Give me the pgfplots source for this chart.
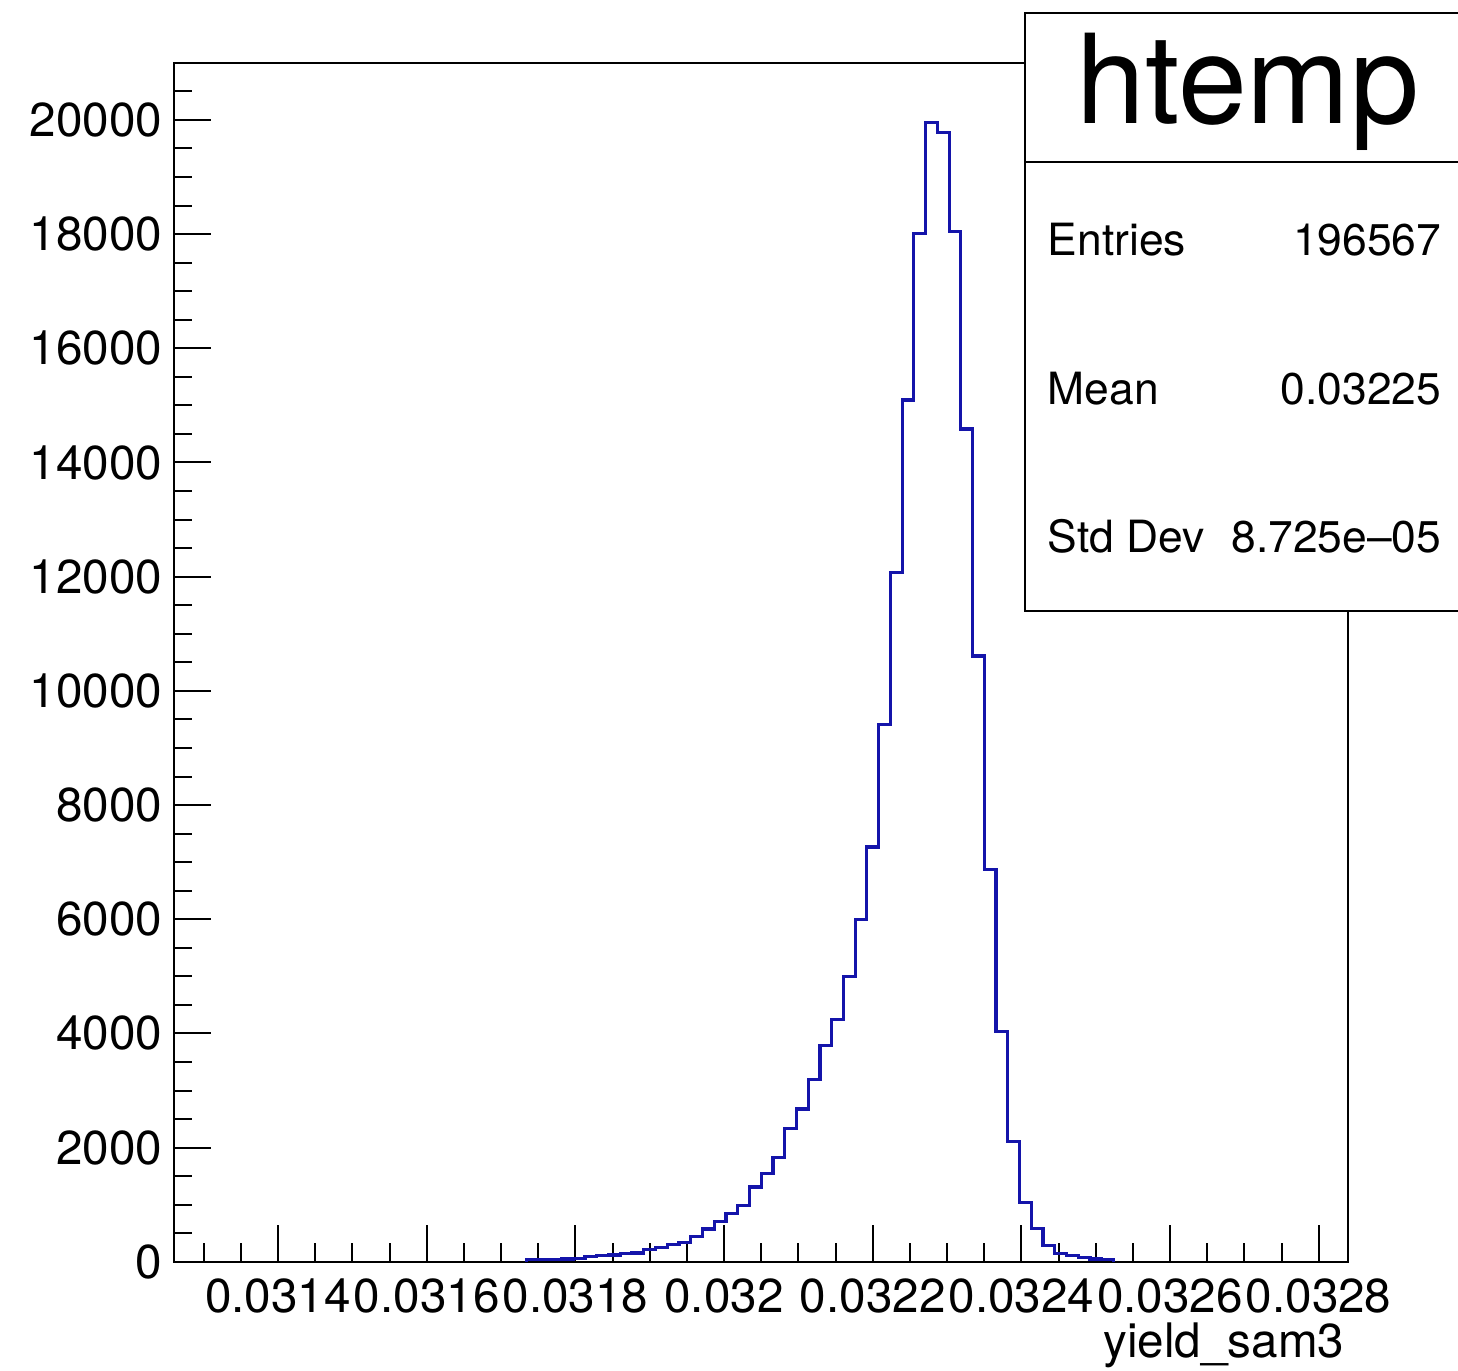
\documentclass[border=0pt]{standalone}
\usepackage{fontspec}
\setmainfont{TeX Gyre Heros}
\usepackage{pgfplots}
\usepackage{pgfplotstable}
\pgfplotsset{compat=1.18}
\definecolor{histblue}{RGB}{20,20,170}

% bin left edges (width 1.58e-5) and counts, outline of htemp
\pgfplotstableread{
x y
0.0317340 0
0.0317340 40
0.0317498 45
0.0317656 45
0.0317814 50
0.0317972 55
0.0318130 100
0.0318288 110
0.0318446 120
0.0318604 145
0.0318762 155
0.0318920 210
0.0319078 250
0.0319236 300
0.0319394 345
0.0319552 440
0.0319710 575
0.0319868 705
0.0320026 850
0.0320184 985
0.0320342 1310
0.0320500 1550
0.0320658 1830
0.0320816 2340
0.0320974 2675
0.0321132 3187
0.0321290 3790
0.0321448 4250
0.0321606 5000
0.0321764 5990
0.0321922 7265
0.0322080 9405
0.0322238 12070
0.0322396 15095
0.0322554 18005
0.0322712 19955
0.0322870 19780
0.0323028 18040
0.0323186 14585
0.0323344 10610
0.0323502 6865
0.0323660 4030
0.0323818 2105
0.0323976 1045
0.0324134 578
0.0324292 280
0.0324450 152
0.0324608 105
0.0324766 70
0.0324924 50
0.0325082 40
0.0325240 0
}\histdata

\begin{document}
\begin{tikzpicture}
\path[use as bounding box] (0,0) rectangle (364.5pt,-342.75pt);
\begin{axis}[
  at={(43.5pt,-315.45pt)}, anchor=south west,
  scale only axis, width=293.6pt, height=299.6pt,
  xmin=0.03126, xmax=0.03284, ymin=0, ymax=20990,
  axis line style={line width=0.5pt},
  tick align=inside, xtick pos=bottom, ytick pos=left,
  major tick length=9.3pt, minor tick length=4.6pt,
  every tick/.style={black, line width=0.5pt},
  scaled x ticks=false, scaled y ticks=false,
  xtick={0.0314,0.0316,0.0318,0.032,0.0322,0.0324,0.0326,0.0328},
  xticklabels={0.0314,0.0316,0.0318,0.032,0.0322,0.0324,0.0326,0.0328},
  minor xtick={0.0313,0.03135,0.03145,0.0315,0.03155,0.03165,0.0317,0.03175,0.03185,0.0319,0.03195,0.03205,0.0321,0.03215,0.03225,0.0323,0.03235,0.03245,0.0325,0.03255,0.03265,0.0327,0.03275},
  ytick={0,2000,4000,6000,8000,10000,12000,14000,16000,18000,20000},
  yticklabels={0,2000,4000,6000,8000,10000,12000,14000,16000,18000,20000},
  minor ytick={500,1000,1500,2500,3000,3500,4500,5000,5500,6500,7000,7500,8500,9000,9500,10500,11000,11500,12500,13000,13500,14500,15000,15500,16500,17000,17500,18500,19000,19500,20500},
  ticklabel style={font=\fontsize{11.9}{14}\selectfont},
  xticklabel style={inner sep=0pt, yshift=-4pt},
  yticklabel style={inner sep=0pt, xshift=-2.75pt},
]
\addplot[const plot mark left, histblue, line width=0.8pt] table {\histdata};
\end{axis}

% stats box
\begin{scope}[x=0.25pt,y=-0.25pt]
\fill[white] (1025,13) rectangle (1458,611);
\draw[line width=0.5pt] (1458,13) -- (1025,13) -- (1025,611) -- (1458,611);
\draw[line width=0.5pt] (1025,162) -- (1458,162);
\node[anchor=base, inner sep=0pt, font=\fontsize{31}{36}\selectfont] at (1248,123) {htemp};
\begin{scope}[every node/.style={inner sep=0pt, font=\fontsize{11.1}{13}\selectfont}]
\node[anchor=base west] at (1047,255) {Entries};
\node[anchor=base east] at (1442,255) {196567};
\node[anchor=base west] at (1047,404) {Mean};
\node[anchor=base east] at (1442,404) {0.03225};
\node[anchor=base west] at (1047,552) {Std Dev};
\node[anchor=base east] at (1442,552) {8.725e--05};
\end{scope}
\node[anchor=base east, inner sep=0pt, font=\fontsize{11.9}{14}\selectfont] at (1345,1357) {yield\_sam3};
\end{scope}
\end{tikzpicture}
\end{document}
